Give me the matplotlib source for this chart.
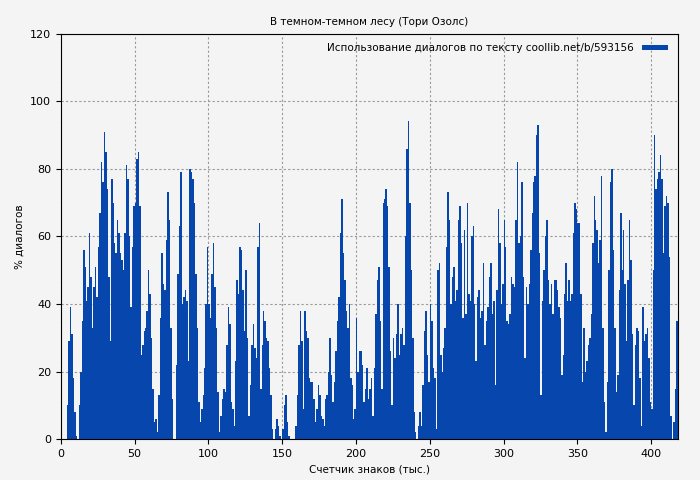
import matplotlib
matplotlib.use("Agg")
import matplotlib.pyplot as plt
import numpy as np

# values per 1k chars (index = thousands of chars)
vals_0 = [0, 0, 0, 0, 10, 29, 39, 31, 18, 8, 1, 0, 10, 20, 35, 56, 51, 41, 45, 61, 48, 33, 45, 51, 42, 57, 67, 82, 76, 91,
          85, 74, 48, 29, 77, 70, 58, 55, 65, 61, 55, 53, 50, 61, 81, 77, 60, 39, 57, 69, 70, 83, 85, 69, 25, 28, 32, 33, 38, 50,
          43, 30, 15, 5, 6, 2, 13, 36, 55, 46, 44, 59, 73, 65, 33]
vals_75 = [12, 0, 0, 22, 49, 63, 79, 40, 42, 44, 41, 23, 80, 79, 77, 70, 49, 33, 11, 5, 9, 13, 21, 40, 57, 40, 36, 49, 58, 45,
           33, 14, 2, 7, 12, 15, 14, 28, 39, 34, 11, 9, 4, 23, 47, 43, 57, 56, 44, 32, 50, 30, 7, 16, 28, 34, 27, 24, 57, 64,
           15, 28, 38, 35, 30, 29, 21, 13, 3, 0]
vals_145 = [3, 6, 4, 1, 0, 3, 10, 13, 5, 1, 0, 0, 0, 0, 4, 13, 28, 38, 29, 9, 38, 32, 30, 18, 17, 17, 12, 5, 9, 16,
            13, 7, 6, 4, 12, 13, 20, 30, 19, 11, 17, 26, 35, 42, 61, 71, 55, 47, 38, 33, 40, 18, 16, 6, 9, 36, 20, 26, 26, 22,
            11, 15, 21, 12, 15, 18, 7, 21, 37, 47, 51, 35, 15, 70, 71, 74, 69, 51, 26, 10, 30, 24, 31, 40, 25, 31, 33, 28, 60, 86,
            94, 70, 50, 30, 8, 2, 0, 4, 8, 4, 16, 32, 38, 25, 17, 40, 35, 21, 18, 3, 50, 52, 25, 20, 27, 33, 57, 73, 65, 40,
            48, 51, 41, 44, 65, 69, 58, 36, 62, 37, 70, 43, 41, 60, 63, 40, 23, 42, 44, 36, 38, 52, 28, 35, 39, 48, 52, 37, 41, 16,
            44, 68, 58, 40, 46, 65, 57, 35, 34, 37, 48, 46, 45, 65, 82, 58, 60, 76, 48, 24, 45, 40, 46, 56, 67, 76, 78, 90, 93, 55,
            13, 41, 50, 60, 65, 47, 40, 46, 37, 47, 47, 44, 39, 36, 19, 25, 43, 52, 41, 47, 41, 43, 61, 70, 68, 64, 64, 43, 17, 33,
            20, 23, 28, 30, 37, 58, 72, 65, 62, 52, 59, 78, 33, 11, 2, 17, 50, 76, 80, 56, 33, 14, 19, 44, 67, 50, 62, 46, 29, 47,
            65, 53, 31, 10, 28, 33, 32, 18, 4, 39, 29, 31, 33, 24, 11, 9, 50, 90, 74, 77, 79, 84, 77, 55, 69, 72, 70, 54, 7, 0,
            5, 15, 35, 10]
values = vals_0 + vals_75 + vals_145
chars = np.arange(len(values)) + 0.5

fig, ax = plt.subplots(figsize=(7, 4.8), dpi=100)
fig.patch.set_facecolor("#f4f4f4")
ax.set_facecolor("#f4f4f4")
ax.bar(chars, values, width=1.0, color="#0646ad", linewidth=0,
       label="Использование диалогов по тексту coollib.net/b/593156", zorder=2)
ax.set_xlim(0, 418)
ax.set_ylim(0, 120)
ax.set_xticks(range(0, 401, 50))
ax.set_yticks(range(0, 121, 20))
ax.tick_params(labelsize=8)
ax.grid(True, color="#999999", linestyle=(0, (2, 2)), linewidth=0.8, zorder=1)
ax.set_title("В темном-темном лесу (Тори Озолс)", fontsize=7.5)
ax.set_xlabel("Счетчик знаков (тыс.)", fontsize=7.5)
ax.set_ylabel("% диалогов", fontsize=7.5)
ax.legend(loc="upper right", fontsize=7.5, frameon=False, markerfirst=False,
          handlelength=2.5, handleheight=0.4)
plt.subplots_adjust(left=0.087, right=0.968, top=0.93, bottom=0.085)
plt.savefig("out.png", dpi=100, facecolor=fig.get_facecolor())
